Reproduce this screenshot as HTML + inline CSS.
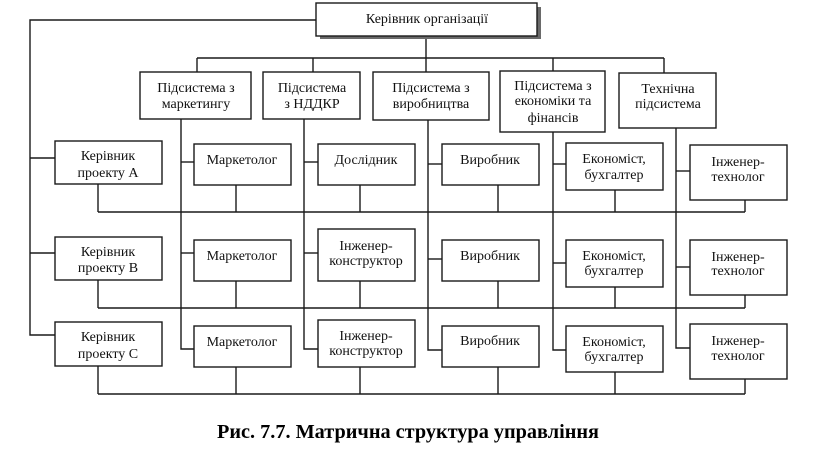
<!DOCTYPE html>
<html>
<head>
<meta charset="utf-8">
<style>
html,body{margin:0;padding:0;background:#fff;}
svg{display:block;}
text{font-family:"Liberation Serif","DejaVu Serif",serif;font-size:14px;fill:#111;text-anchor:middle;}
.cap{font-size:20px;font-weight:bold;fill:#000;}
</style>
</head>
<body>
<svg width="816" height="468" viewBox="0 0 816 468" xmlns="http://www.w3.org/2000/svg">
<g stroke="#1a1a1a" stroke-width="1.4" fill="none">
  <!-- top to left spine -->
  <polyline points="316,20 30,20 30,335 55,335"/>
  <line x1="30" y1="158" x2="55" y2="158"/>
  <line x1="30" y1="253" x2="55" y2="253"/>
  <!-- top to subsystems -->
  <line x1="426" y1="36" x2="426" y2="58"/>
  <line x1="197" y1="58" x2="664" y2="58"/>
  <line x1="197" y1="58" x2="197" y2="72"/>
  <line x1="313" y1="58" x2="313" y2="72"/>
  <line x1="426" y1="58" x2="426" y2="72"/>
  <line x1="553" y1="58" x2="553" y2="71"/>
  <line x1="664" y1="58" x2="664" y2="73"/>
  <!-- subsystem verticals -->
  <polyline points="181,119 181,349 194,349"/>
  <line x1="181" y1="162" x2="194" y2="162"/>
  <line x1="181" y1="253" x2="194" y2="253"/>
  <polyline points="304,119 304,349 318,349"/>
  <line x1="304" y1="162" x2="318" y2="162"/>
  <line x1="304" y1="253" x2="318" y2="253"/>
  <polyline points="428,120 428,350 442,350"/>
  <line x1="428" y1="164" x2="442" y2="164"/>
  <line x1="428" y1="259" x2="442" y2="259"/>
  <polyline points="553,132 553,350 566,350"/>
  <line x1="553" y1="164" x2="566" y2="164"/>
  <line x1="553" y1="263" x2="566" y2="263"/>
  <polyline points="676,128 676,348 690,348"/>
  <line x1="676" y1="171" x2="690" y2="171"/>
  <line x1="676" y1="267" x2="690" y2="267"/>
  <!-- project buses -->
  <line x1="98" y1="212" x2="745" y2="212"/>
  <line x1="98" y1="308" x2="745" y2="308"/>
  <line x1="98" y1="394" x2="745" y2="394"/>
  <!-- drops row A -->
  <line x1="98" y1="184" x2="98" y2="212"/>
  <line x1="236" y1="185" x2="236" y2="212"/>
  <line x1="360" y1="185" x2="360" y2="212"/>
  <line x1="498" y1="185" x2="498" y2="212"/>
  <line x1="615" y1="190" x2="615" y2="212"/>
  <line x1="745" y1="200" x2="745" y2="212"/>
  <!-- drops row B -->
  <line x1="98" y1="280" x2="98" y2="308"/>
  <line x1="236" y1="281" x2="236" y2="308"/>
  <line x1="360" y1="281" x2="360" y2="308"/>
  <line x1="498" y1="281" x2="498" y2="308"/>
  <line x1="615" y1="287" x2="615" y2="308"/>
  <line x1="745" y1="295" x2="745" y2="308"/>
  <!-- drops row C -->
  <line x1="98" y1="366" x2="98" y2="394"/>
  <line x1="236" y1="367" x2="236" y2="394"/>
  <line x1="360" y1="367" x2="360" y2="394"/>
  <line x1="498" y1="367" x2="498" y2="394"/>
  <line x1="615" y1="372" x2="615" y2="394"/>
  <line x1="745" y1="379" x2="745" y2="394"/>
</g>

<!-- top box with shadow -->
<rect x="320" y="7" width="221" height="32" fill="#6a6a6a"/>
<g stroke="#1a1a1a" stroke-width="1.4" fill="#fff">
  <rect x="316" y="3" width="221" height="33"/>
  <!-- subsystems -->
  <rect x="140" y="72" width="111" height="47"/>
  <rect x="263" y="72" width="97" height="47"/>
  <rect x="373" y="72" width="116" height="48"/>
  <rect x="500" y="71" width="105" height="61"/>
  <rect x="619" y="73" width="97" height="55"/>
  <!-- row A -->
  <rect x="55" y="141" width="107" height="43"/>
  <rect x="194" y="144" width="97" height="41"/>
  <rect x="318" y="144" width="97" height="41"/>
  <rect x="442" y="144" width="97" height="41"/>
  <rect x="566" y="143" width="97" height="47"/>
  <rect x="690" y="145" width="97" height="55"/>
  <!-- row B -->
  <rect x="55" y="237" width="107" height="43"/>
  <rect x="194" y="240" width="97" height="41"/>
  <rect x="318" y="229" width="97" height="52"/>
  <rect x="442" y="240" width="97" height="41"/>
  <rect x="566" y="240" width="97" height="47"/>
  <rect x="690" y="240" width="97" height="55"/>
  <!-- row C -->
  <rect x="55" y="322" width="107" height="44"/>
  <rect x="194" y="326" width="97" height="41"/>
  <rect x="318" y="320" width="97" height="47"/>
  <rect x="442" y="326" width="97" height="41"/>
  <rect x="566" y="326" width="97" height="46"/>
  <rect x="690" y="324" width="97" height="55"/>
</g>

<!-- texts -->
<text x="427" y="23">Керівник організації</text>

<text x="196" y="92">Підсистема з</text>
<text x="196" y="108">маркетингу</text>
<text x="312" y="92">Підсистема</text>
<text x="312" y="108">з НДДКР</text>
<text x="431" y="92">Підсистема з</text>
<text x="431" y="108">виробництва</text>
<text x="553" y="90">Підсистема з</text>
<text x="553" y="105">економіки та</text>
<text x="553" y="122">фінансів</text>
<text x="668" y="93">Технічна</text>
<text x="668" y="108">підсистема</text>

<text x="108" y="160">Керівник</text>
<text x="108" y="177">проекту А</text>
<text x="242" y="164">Маркетолог</text>
<text x="366" y="164">Дослідник</text>
<text x="490" y="164">Виробник</text>
<text x="614" y="163">Економіст,</text>
<text x="614" y="179">бухгалтер</text>
<text x="738" y="166">Інженер-</text>
<text x="738" y="181">технолог</text>

<text x="108" y="256">Керівник</text>
<text x="108" y="272">проекту В</text>
<text x="242" y="260">Маркетолог</text>
<text x="366" y="250">Інженер-</text>
<text x="366" y="265">конструктор</text>
<text x="490" y="260">Виробник</text>
<text x="614" y="260">Економіст,</text>
<text x="614" y="275">бухгалтер</text>
<text x="738" y="261">Інженер-</text>
<text x="738" y="275">технолог</text>

<text x="108" y="341">Керівник</text>
<text x="108" y="358">проекту С</text>
<text x="242" y="346">Маркетолог</text>
<text x="366" y="340">Інженер-</text>
<text x="366" y="355">конструктор</text>
<text x="490" y="345">Виробник</text>
<text x="614" y="346">Економіст,</text>
<text x="614" y="361">бухгалтер</text>
<text x="738" y="345">Інженер-</text>
<text x="738" y="360">технолог</text>

<text class="cap" x="408" y="438" textLength="382" lengthAdjust="spacingAndGlyphs">Рис. 7.7. Матрична структура управління</text>
</svg>
</body>
</html>
